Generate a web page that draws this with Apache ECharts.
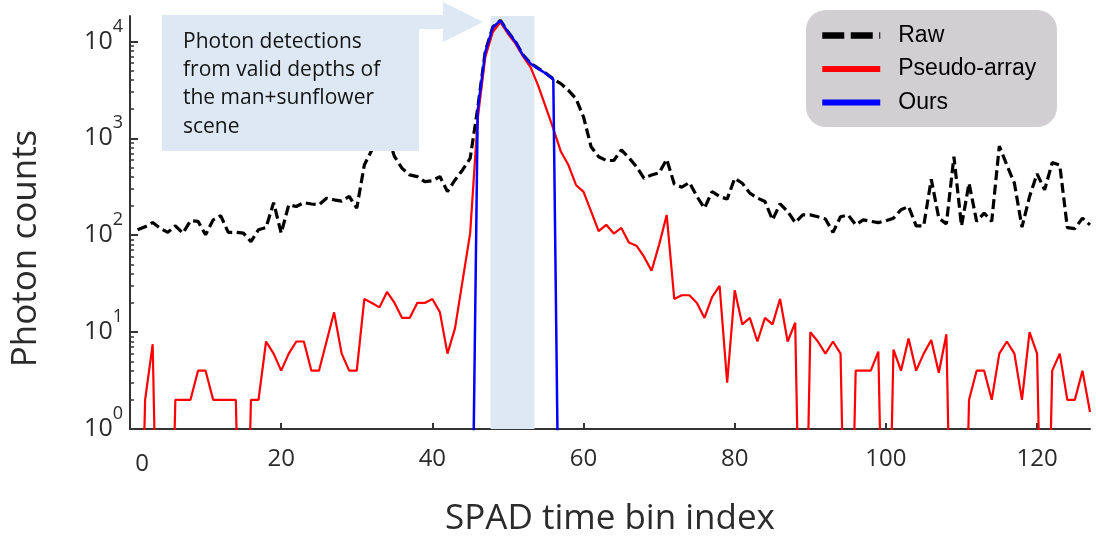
<!DOCTYPE html>
<html>
<head>
<meta charset="utf-8">
<script src="https://cdn.jsdelivr.net/npm/echarts@6/dist/echarts.min.js"></script>
<style>
html,body{margin:0;padding:0;background:#ffffff;}
#chart{width:1096px;height:542px;}
</style>
</head>
<body>
<div id="chart"></div>
<script>
// ---------------- data ----------------
const firstBin = 1; // SPAD time bins are 1-based
const seriesNames = ['Raw', 'Pseudo-array', 'Ours'];

const rawCounts = [
  114,122,135,118,107,125,105,141,139,101,
  144,159,107,107,105,86,114,120,217,105,
  206,198,217,210,206,241,232,225,251,190,
  531,760,1300,1100,646,490,419,403,357,365,
  403,282,372,472,620,2050,7900,14100,16500,12600,
  9900,7250,5950,5280,4700,4100,3670,3130,2570,1660,
  818,646,590,590,760,630,510,387,419,440,
  607,338,313,350,251,190,282,251,236,387,
  344,272,242,223,144,211,176,135,162,162,
  155,147,107,155,162,128,144,139,135,141,
  150,183,198,125,125,378,150,131,646,125,
  344,139,169,139,832,531,344,121,250,430,
  294,561,531,120,117,150,128
];

const pseudoArrayCounts = [
  0,2,7.5,0,0,2,2,2,4,4,
  2,2,2,2,0,2,2,8,6,4,
  6,8,8,4,4,8,16,6,4,4,
  22,20,18,26,20,14,14,20,20,22,
  16,6,11,34,105,1600,6900,12500,15800,12000,
  9500,7000,5400,3500,2100,1260,730,530,330,280,
  176,110,128,104,119,84,78,60,43,80,
  162,22,24,24,20,14,23,30,3,27,
  12,14,8,14,12,22,8,12.5,0,10,
  8,6,8,6,0,4,4,4,6.3,0,
  6.6,4,8.6,4,6,8.3,3.8,9.5,0,0,
  2,4,4,2,6,8,6,2,10,6,
  0,4,6,2,2,4,1.5
];

const oursCounts = [
  0,0,0,0,0,0,0,0,0,0,
  0,0,0,0,0,0,0,0,0,0,
  0,0,0,0,0,0,0,0,0,0,
  0,0,0,0,0,0,0,0,0,0,
  0,0,0,0,0,1950,7760,14000,16400,12500,
  9840,7180,5890,5240,4660,4070,0,0,0,0,
  0,0,0,0,0,0,0,0,0,0,
  0,0,0,0,0,0,0,0,0,0,
  0,0,0,0,0,0,0,0,0,0,
  0,0,0,0,0,0,0,0,0,0,
  0,0,0,0,0,0,0,0,0,0,
  0,0,0,0,0,0,0,0,0,0,
  0,0,0,0,0,0,0
];

const xTickValues = [0, 20, 40, 60, 80, 100, 120];
const yMajorTicks = [1, 10, 100, 1000, 10000];
const yMinorTicks = [2,3,4,5,6,7,8,9, 20,30,40,50,60,70,80,90,
                     200,300,400,500,600,700,800,900, 2000,3000,4000,5000,6000,7000,8000,9000];
const highlightBins = [47.7, 53.5];
const annotationText = 'Photon detections\nfrom valid depths of\nthe man+sunflower\nscene';

// ---------------- chart ----------------
const ZERO_FLOOR = 1e-3; // zero counts are drawn off the bottom of the log axis
function toPoints(arr) {
  return arr.map((v, k) => [firstBin + k, v > 0 ? v : ZERO_FLOOR]);
}

const FONT = '"Open Sans", "Noto Sans", sans-serif';
const LEGEND_FONT = '"Liberation Sans", Arial, sans-serif';
const AXIS_COLOR = '#333333';
const TEXT_COLOR = '#2b2b2b';
const PALE_BLUE = '#dde8f4';

const chart = echarts.init(document.getElementById('chart'), null, {renderer: 'canvas'});

const option = {
  animation: false,
  backgroundColor: '#ffffff',
  grid: {left: 130, right: 6, top: 16, bottom: 112},
  xAxis: {
    type: 'value', min: 0, max: 127, interval: 20,
    axisLine: {show: true, lineStyle: {color: AXIS_COLOR, width: 2}},
    axisTick: {show: true, inside: true, length: 6, lineStyle: {color: AXIS_COLOR, width: 2},
               customValues: xTickValues.filter(v => v > 0)},
    axisLabel: {
      customValues: xTickValues, margin: 18, fontSize: 24, fontFamily: FONT, color: TEXT_COLOR,
      formatter: v => (v === 0 ? '{z|0}' : String(v)),
      rich: {z: {fontSize: 24, fontFamily: FONT, color: TEXT_COLOR, padding: [5, 0, 0, 24]}}
    },
    splitLine: {show: false},
    name: 'SPAD time bin index', nameLocation: 'middle', nameGap: 73,
    nameTextStyle: {fontSize: 35, fontFamily: FONT, color: TEXT_COLOR}
  },
  yAxis: [
    {
      type: 'log', logBase: 10, min: 1, max: 18300,
      axisLine: {show: true, lineStyle: {color: AXIS_COLOR, width: 2}},
      axisTick: {show: true, inside: true, length: 8, lineStyle: {color: AXIS_COLOR, width: 2},
                 customValues: yMajorTicks},
      axisLabel: {
        customValues: yMajorTicks, margin: 7,
        formatter: v => '{b|10}{e|' + Math.round(Math.log10(v)) + '}',
        rich: {
          b: {fontSize: 25, fontFamily: FONT, color: TEXT_COLOR},
          e: {fontSize: 18, fontFamily: FONT, color: TEXT_COLOR, padding: [0, 0, 30, 0]}
        }
      },
      splitLine: {show: false},
      name: 'Photon counts', nameLocation: 'middle', nameRotate: 90, nameGap: 86,
      nameTextStyle: {fontSize: 35, fontFamily: FONT, color: TEXT_COLOR, padding: [0, 52, 0, 0]}
    },
    {
      type: 'log', logBase: 10, min: 1, max: 18300, position: 'left',
      axisLine: {show: false},
      axisLabel: {show: false},
      splitLine: {show: false},
      axisTick: {show: true, inside: true, length: 4, lineStyle: {color: AXIS_COLOR, width: 1.5},
                 customValues: yMinorTicks}
    }
  ],
  legend: {
    orient: 'vertical', left: 819, top: 23.5, padding: 0, itemGap: 9.5,
    itemWidth: 58, itemHeight: 24, z: 20,
    itemStyle: {opacity: 0},
    textStyle: {fontFamily: LEGEND_FONT, fontSize: 23, color: '#000000', padding: [0, 0, 0, 13], lineHeight: 24},
    data: [
      {name: seriesNames[0], lineStyle: {width: 6.5, type: [22, 6.5]}},
      {name: seriesNames[1], lineStyle: {width: 6}},
      {name: seriesNames[2], lineStyle: {width: 6}}
    ]
  },
  graphic: [
    {type: 'rect', z: 15, silent: true,
     shape: {x: 806, y: 10, width: 251, height: 117, r: 20},
     style: {fill: '#d1cfd1'}},
    {type: 'polygon', z: 30, silent: true,
     shape: {points: [[162,15],[443,15],[443,2],[483,22],[443,42],[443,29],[419,29],[419,151],[162,151]]},
     style: {fill: PALE_BLUE}},
    {type: 'text', z: 31, silent: true, x: 183, y: 27.5,
     style: {text: annotationText, fontSize: 21, fontFamily: FONT, fill: '#141414',
             lineHeight: 28.3, verticalAlign: 'top', align: 'left'}}
  ],
  series: [
    {
      name: seriesNames[0], type: 'line', data: toPoints(rawCounts),
      showSymbol: false, symbol: 'none', clip: true, z: 3,
      lineStyle: {color: '#000000', width: 3.2, type: [10, 4.5]},
      itemStyle: {color: '#000000'},
      markArea: {
        silent: true, z: 1,
        itemStyle: {color: PALE_BLUE},
        data: [[{xAxis: highlightBins[0]}, {xAxis: highlightBins[1]}]]
      }
    },
    {
      name: seriesNames[1], type: 'line', data: toPoints(pseudoArrayCounts),
      showSymbol: false, symbol: 'none', clip: true, z: 4,
      lineStyle: {color: '#ff0000', width: 2.2},
      itemStyle: {color: '#ff0000'}
    },
    {
      name: seriesNames[2], type: 'line', data: toPoints(oursCounts),
      showSymbol: false, symbol: 'none', clip: true, z: 5,
      lineStyle: {color: '#0000ff', width: 2.5},
      itemStyle: {color: '#0000ff'}
    }
  ]
};

chart.setOption(option);
</script>
</body>
</html>
